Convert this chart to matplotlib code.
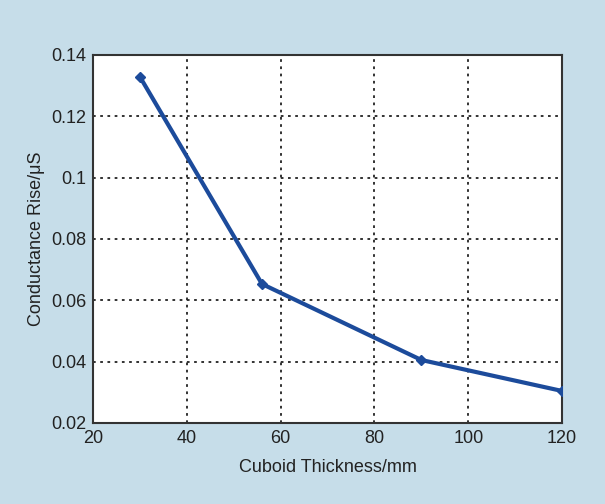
import matplotlib
matplotlib.use("Agg")
import matplotlib.pyplot as plt

# cuboid thickness (mm) vs conductance rise (uS)
thickness = [30, 56, 90, 120]
conductance = [0.1328, 0.0653, 0.0405, 0.0304]

xticks = [20, 40, 60, 80, 100, 120]
yticks = [0.02, 0.04, 0.06, 0.08, 0.1, 0.12, 0.14]
ytick_labels = ["0.02", "0.04", "0.06", "0.08", "0.1", "0.12", "0.14"]

plt.rcParams['font.family'] = ['Liberation Sans', 'DejaVu Sans']

bg = "#c6dde9"
fig = plt.figure(figsize=(6.05, 5.04), dpi=100, facecolor=bg)
ax = fig.add_axes([0.154, 0.161, 0.775, 0.730])
ax.set_facecolor("white")

ax.plot(thickness, conductance, color="#1c4b9b", lw=3, marker="D", ms=5,
        solid_joinstyle="round", zorder=3)

ax.set_xlim(20, 120)
ax.set_ylim(0.02, 0.14)
ax.set_xticks(xticks)
ax.set_yticks(yticks)
ax.set_yticklabels(ytick_labels)
ax.tick_params(length=0, labelsize=13, colors="#222222", pad=5)
ax.grid(True, color="#222222", linestyle=(0, (1.5, 2.5)), lw=1.3)

for s in ax.spines.values():
    s.set_color("#333333")
    s.set_linewidth(1.5)

ax.set_xlabel("Cuboid Thickness/mm", fontsize=13, color="#222222", labelpad=9)
ax.set_ylabel("Conductance Rise/μS", fontsize=13, color="#222222", labelpad=4)

fig.savefig("out.png", dpi=100, facecolor=bg)
